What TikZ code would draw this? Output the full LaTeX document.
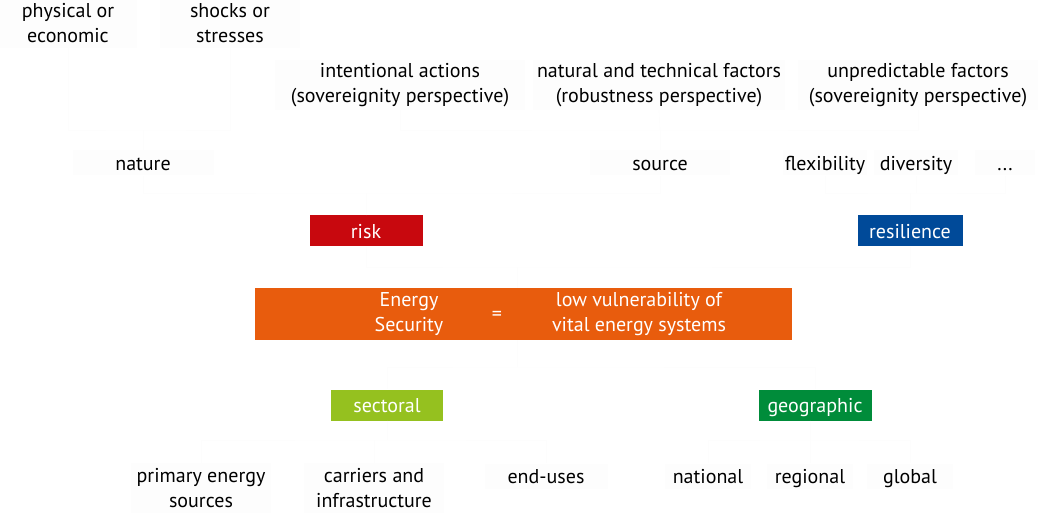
\documentclass[tikz,border=0pt]{standalone}
\usepackage{fontspec}
\setmainfont{PT Sans}
\definecolor{faintfill}{RGB}{253,253,253}
\definecolor{faintline}{RGB}{253,253,253}
\definecolor{riskred}{RGB}{200,8,14}
\definecolor{resblue}{RGB}{0,74,153}
\definecolor{esorange}{RGB}{232,92,13}
\definecolor{secgreen}{RGB}{149,193,31}
\definecolor{geogreen}{RGB}{0,140,58}
\begin{document}
\begin{tikzpicture}[x=1pt,y=-1pt,
  lbl/.style={fill=faintfill, inner sep=0pt, align=center, minimum height=25pt,
    font=\fontsize{20}{25}\selectfont},
  one/.style={text height=17pt, text depth=2.5pt},
  lbltwo/.style={lbl, minimum height=50pt},
  colbox/.style={inner sep=0pt, minimum height=31pt, text=white, one,
    font=\fontsize{20}{25}\selectfont},
  estext/.style={inner sep=0pt, align=center, text=white,
    font=\fontsize{20}{25}\selectfont},
  conn/.style={draw=faintline, line width=0.8pt}]
\useasboundingbox (0,0) rectangle (1045,513);

% top row
\node[lbltwo, minimum width=138pt] (phys) at (68,23) {physical or\\economic};
\node[lbltwo, minimum width=140pt] (shock) at (230,23) {shocks or\\stresses};
\node[lbltwo, minimum width=250pt] (inten) at (400,85) {intentional actions\\(sovereignity perspective)};
\node[lbltwo, minimum width=252pt] (natur) at (659,85) {natural and technical factors\\(robustness perspective)};
\node[lbltwo, minimum width=240pt] (unpred) at (918,85) {unpredictable factors\\(sovereignity perspective)};

% second row
\node[lbl, one, minimum width=141pt] (nature) at (143,163) {nature};
\node[lbl, one, minimum width=140pt] (source) at (660,163) {source};
\node[lbl, one, minimum width=84pt] (flex) at (825,163) {flexibility};
\node[lbl, one, minimum width=84pt] (div) at (916,163) {diversity};
\node[lbl, one, minimum width=60pt] (dots) at (1005,163) {{.}{.}{.}};

% risk / resilience
\node[colbox, fill=riskred, minimum width=113pt] (risk) at (366,231) {risk};
\node[colbox, fill=resblue, minimum width=105pt] (resil) at (910,231) {resilience};

% energy security
\node[fill=esorange, inner sep=0pt, minimum width=537pt, minimum height=52pt] (es) at (523.5,314) {};
\node[estext] (esl) at (409,314) {Energy\\Security};
\node[estext] (eq) at (497,316) {=};
\node[estext] (esr) at (639,314) {low vulnerability of\\vital energy systems};

% sectoral / geographic
\node[colbox, fill=secgreen, minimum width=112pt] (sect) at (387,405) {sectoral};
\node[colbox, fill=geogreen, minimum width=113pt] (geo) at (815,405) {geographic};

% bottom row
\node[lbltwo, minimum width=140pt] (prim) at (201,488) {primary energy\\sources};
\node[lbltwo, minimum width=140pt] (carr) at (374,488) {carriers and\\infrastructure};
\node[lbl, one, minimum width=123pt] (endu) at (546,476) {end-uses};
\node[lbl, one, minimum width=86pt] (natl) at (708,476) {national};
\node[lbl, one, minimum width=86pt] (regl) at (810,476) {regional};
\node[lbl, one, minimum width=86pt] (glob) at (910,476) {global};

% faint connectors
\coordinate (esb) at (517,267);
\draw[conn] (es.north -| esb) -- (esb);
\draw[conn] (risk.south) |- (esb) -| (resil.south);
\coordinate (rb) at (366,193);
\draw[conn] (risk.north) -- (rb);
\draw[conn] (nature.south) |- (rb) -| (source.south);
\coordinate (nb) at (143,130);
\draw[conn] (nature.north) -- (nb);
\draw[conn] (phys.south) |- (nb) -| (shock.south);
\coordinate (sb) at (660,130);
\draw[conn] (source.north) -- (sb);
\draw[conn] (inten.south) |- (sb) -| (unpred.south);
\draw[conn] (natur.south) -- (sb);
\coordinate (resb) at (910,193);
\draw[conn] (resil.north) -- (resb);
\draw[conn] (flex.south) |- (resb) -| (dots.south);
\draw[conn] (div.south) -- (div.south |- resb);
\coordinate (esd) at (517,367);
\draw[conn] (es.south -| esd) -- (esd);
\draw[conn] (sect.north) |- (esd) -| (geo.north);
\coordinate (secb) at (387,440);
\draw[conn] (sect.south) -- (secb);
\draw[conn] (prim.north) |- (secb) -| (endu.north);
\draw[conn] (carr.north) -- (carr.north |- secb);
\coordinate (geob) at (810,440);
\draw[conn] (geo.south -| geob) -- (geob);
\draw[conn] (natl.north) |- (geob) -| (glob.north);
\draw[conn] (regl.north) -- (geob);
\end{tikzpicture}
\end{document}
